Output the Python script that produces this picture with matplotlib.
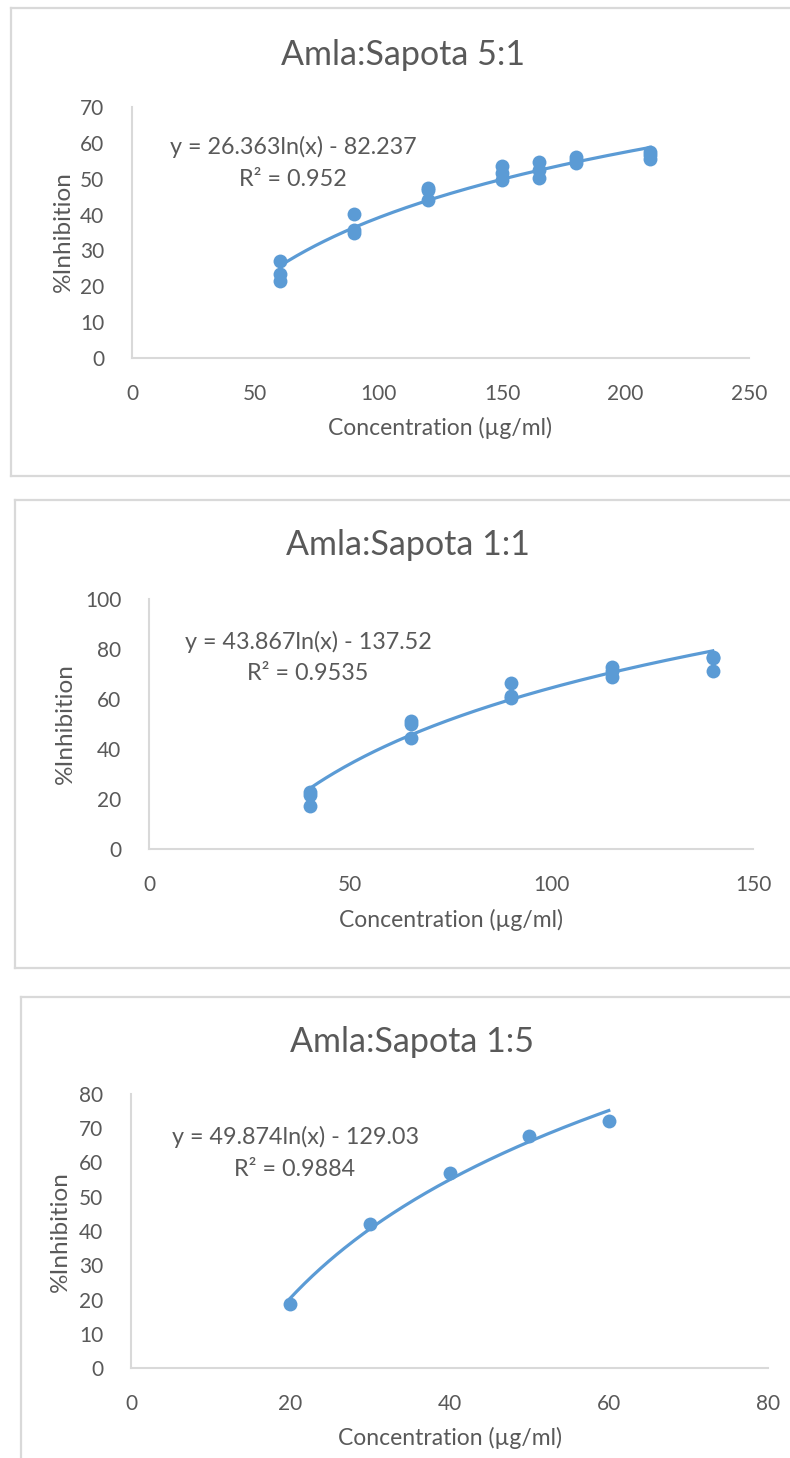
import numpy as np
import matplotlib
matplotlib.use('Agg')
import matplotlib.pyplot as plt
from matplotlib.lines import Line2D

plt.rcParams['font.family'] = ['Lato', 'DejaVu Sans']

# ---- data ----
titles = ['Amla:Sapota 5:1', 'Amla:Sapota 1:1', 'Amla:Sapota 1:5']

conc_51 = [60, 60, 60, 90, 90, 90, 120, 120, 120, 150, 150, 150, 165, 165, 165, 180, 180, 180, 210, 210, 210]
inhib_51 = [27.1, 23.4, 21.5, 40.1, 35.7, 34.8, 47.5, 46.8, 44.1, 53.6, 51.7, 49.6,
            54.6, 52.4, 50.1, 56.1, 55.2, 54.3, 57.5, 56.6, 55.4]

conc_11 = [40, 40, 40, 65, 65, 65, 90, 90, 90, 115, 115, 115, 140, 140, 140]
inhib_11 = [22.9, 21.6, 17.2, 51.3, 50.0, 44.3, 66.3, 61.0, 60.3, 72.9, 71.3, 68.9, 76.9, 76.3, 71.2]

conc_15 = [20, 30, 40, 50, 60]
inhib_15 = [18.6, 42.0, 57.0, 67.8, 72.1]

# logarithmic trendline coefficients as shown on the charts
slopes = [26.363, 43.867, 49.874]
intercepts = [-82.237, -137.52, -129.03]
eq_texts = ['y = 26.363ln(x) - 82.237', 'y = 43.867ln(x) - 137.52', 'y = 49.874ln(x) - 129.03']
r2_texts = ['R² = 0.952', 'R² = 0.9535', 'R² = 0.9884']

xlims = [250, 150, 80]
xsteps = [50, 50, 20]
ylims = [70, 100, 80]
ysteps = [10, 20, 10]

xs = [conc_51, conc_11, conc_15]
ys = [inhib_51, inhib_11, inhib_15]

# ---- layout in pixels ----
W, H = 790, 1458
axes_px = [(132, 749, 107, 358), (149, 753, 599, 849), (131, 768, 1094, 1368)]
title_px = [(403, 55), (408, 545), (412, 1042)]
eq_px = [(293, 147, 180), (308, 642, 673), (295, 1137, 1169)]
xlabel_px = [(440, 428), (451, 920), (450, 1438)]
ylabel_px = [(63, 232), (65, 724), (60, 1232)]
box_px = [(11, 8, 476), (15, 500, 968), (21, 997, 1470)]

blue = '#5B9BD5'
txt = '#595959'
grey = '#D9D9D9'

fig = plt.figure(figsize=(W / 100, H / 100), dpi=100)


def fx(x):
    return x / W


def fy(y):
    return 1 - y / H


# chart frames
for left, top, bottom in box_px:
    fig.add_artist(Line2D([fx(left), fx(W + 20)], [fy(top), fy(top)], color=grey, lw=1.6))
    fig.add_artist(Line2D([fx(left), fx(W + 20)], [fy(bottom), fy(bottom)], color=grey, lw=1.6))
    fig.add_artist(Line2D([fx(left), fx(left)], [fy(top), fy(bottom)], color=grey, lw=1.6))

for i in range(3):
    x0, x1, y0, y1 = axes_px[i]
    ax = fig.add_axes([fx(x0), fy(y1), (x1 - x0) / W, (y1 - y0) / H])
    ax.scatter(xs[i], ys[i], s=100, color=blue, zorder=3, linewidths=0)
    xx = np.linspace(min(xs[i]), max(xs[i]), 200)
    ax.plot(xx, slopes[i] * np.log(xx) + intercepts[i], color=blue, lw=2.3, zorder=2)

    ax.set_xlim(0, xlims[i])
    ax.set_ylim(0, ylims[i])
    ax.set_xticks(np.arange(0, xlims[i] + 1, xsteps[i]))
    ax.set_yticks(np.arange(0, ylims[i] + 1, ysteps[i]))
    ax.tick_params(length=0, labelsize=15, labelcolor=txt)
    ax.tick_params(axis='x', pad=19)
    ax.tick_params(axis='y', pad=20)
    for s in ['top', 'right']:
        ax.spines[s].set_visible(False)
    for s in ['left', 'bottom']:
        ax.spines[s].set_color(grey)
        ax.spines[s].set_linewidth(1.5)
    ax.patch.set_alpha(0)

    tx, ty = title_px[i]
    fig.text(fx(tx), fy(ty), titles[i], ha='center', va='center', fontsize=24.5, color=txt)
    ex, ey1, ey2 = eq_px[i]
    fig.text(fx(ex), fy(ey1), eq_texts[i], ha='center', va='center', fontsize=16.8, color=txt)
    fig.text(fx(ex), fy(ey2), r2_texts[i], ha='center', va='center', fontsize=16.8, color=txt)
    lx, ly = xlabel_px[i]
    fig.text(fx(lx), fy(ly), 'Concentration (µg/ml)', ha='center', va='center', fontsize=16.5, color=txt)
    yx, yy = ylabel_px[i]
    fig.text(fx(yx), fy(yy), '%Inhibition', ha='center', va='center', rotation=90, fontsize=17.5, color=txt)

fig.savefig('out.png', dpi=100)
